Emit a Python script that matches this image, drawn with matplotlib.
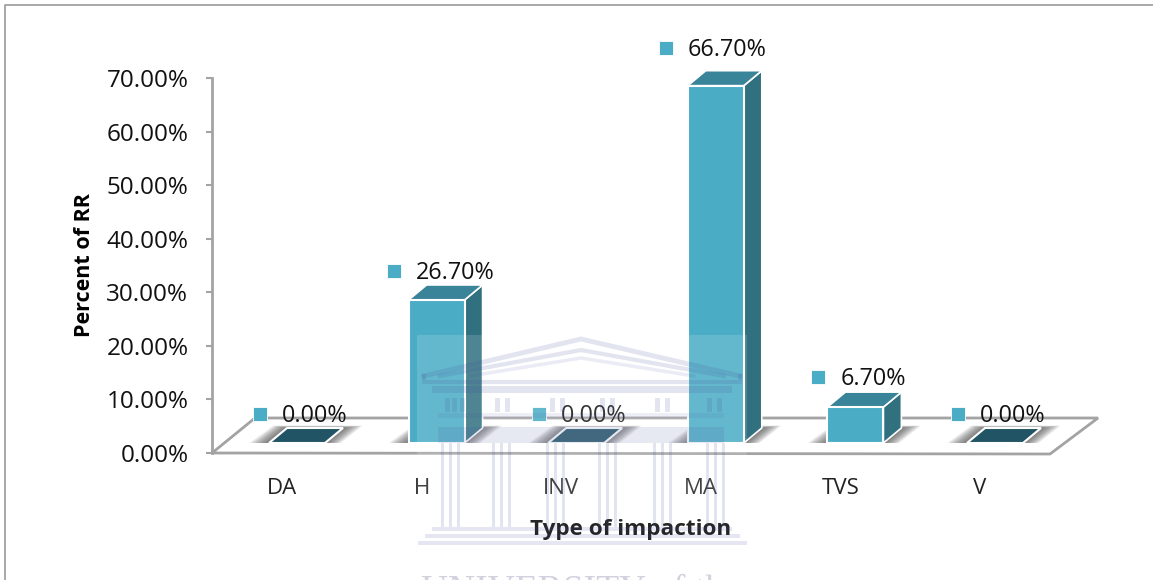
import matplotlib
matplotlib.use('Agg')
import matplotlib.pyplot as plt
from matplotlib.patches import Polygon, Rectangle
from matplotlib.transforms import offset_copy
import numpy as np

# data
categories = ['DA', 'H', 'INV', 'MA', 'TVS', 'V']
values = [0.0, 26.7, 0.0, 66.7, 6.7, 0.0]
y_ticks = [0, 10, 20, 30, 40, 50, 60, 70]

FRONT = '#4aacc5'
SIDE = '#31707f'
TOP = '#3a849a'
FLAT = '#215464'
GRAY = '#a3a3a3'

W, H = 1153, 580
plt.rcParams['font.family'] = ['Open Sans', 'DejaVu Sans']

fig = plt.figure(figsize=(W / 100, H / 100), dpi=100)

# axes placed so that 0% is at y=453 and 70% at y=78, categories 139.6 px apart
ax = fig.add_axes([212 / W, 1 - 453 / H, 888 / W, 375 / H])
px_x = 139.6
ax.set_xlim((212 - 297) / px_x, (1100 - 297) / px_x)
ax.set_ylim(0, 70)
px_y = 375 / 70

for s in ['top', 'right', 'bottom']:
    ax.spines[s].set_visible(False)
ax.spines['left'].set_color(GRAY)
ax.spines['left'].set_linewidth(2)

ax.set_yticks(y_ticks)
ax.set_yticklabels([f'{t:.2f}%' for t in y_ticks], fontsize=17.5, color='#111111')
ax.tick_params(axis='y', length=4, width=1.5, color=GRAY, pad=13)

xpos = np.arange(len(categories))
ax.set_xticks(xpos - 15 / px_x)
ax.set_xticklabels(categories, fontsize=16, color='#222222')
ax.tick_params(axis='x', length=0, pad=18)

ax.set_ylabel('Percent of RR', fontsize=15.5, fontweight='bold', labelpad=0)
ax.yaxis.set_label_coords((95 - 212) / 888, (453 - 265) / 375)
ax.set_xlabel('Type of impaction', fontsize=16.2, fontweight='bold')
ax.xaxis.set_label_coords((631 - 212) / 888, -(529 - 453) / 375, )
ax.xaxis.label.set_va('center')


def dx(p):
    return p / px_x


def dy(p):
    return p / px_y


# floor of the 3D chart
floor = [(dx(212 - 297), 0), (dx(255 - 297), dy(35)), (dx(1098 - 297), dy(35)),
         (dx(1050 - 297), dy(-1))]
ax.add_patch(Polygon(floor, closed=True, fc='white', ec=GRAY, lw=2, zorder=1, clip_on=False))

half = 28
base = dy(10)
depth_x, depth_y = 18, 15

for i, v in enumerate(values):
    x0 = xpos[i] - dx(half)
    x1 = xpos[i] + dx(half)
    top = base + v
    # soft shadow on the floor, stacked layers getting tighter and darker
    for g in range(20, 0, -1):
        shadow = [(x0 - dx(g), base), (x1 + dx(g * 0.8), base),
                  (x1 + dx(depth_x + g), base + dy(depth_y + g * 0.12)),
                  (x0 + dx(depth_x - g * 0.7), base + dy(depth_y + g * 0.12))]
        ax.add_patch(Polygon(shadow, closed=True, fc='#444444', ec='none',
                             alpha=0.05, zorder=2, clip_on=False))
    top_face = [(x0, top), (x1, top), (x1 + dx(depth_x), top + dy(depth_y)),
                (x0 + dx(depth_x), top + dy(depth_y))]
    if v == 0:
        ax.add_patch(Polygon(top_face, closed=True, fc=FLAT, ec='white', lw=1.5, zorder=3,
                             clip_on=False))
    else:
        side = [(x1, base), (x1 + dx(depth_x), base + dy(depth_y)),
                (x1 + dx(depth_x), top + dy(depth_y)), (x1, top)]
        ax.add_patch(Polygon(side, closed=True, fc=SIDE, ec='white', lw=1.2, zorder=3,
                             clip_on=False))
        ax.add_patch(Polygon(top_face, closed=True, fc=TOP, ec='white', lw=1.2, zorder=3,
                             clip_on=False))
        ax.add_patch(Rectangle((x0, base), x1 - x0, v, fc=FRONT, ec='white', lw=1.5, zorder=4,
                               clip_on=False))

# value labels with their little legend keys
key_shift = [-37, -42.6, -37, -50, -37, -37]
label_lift = [29, 29, 29, 38, 30, 29]
for i, v in enumerate(values):
    tr = offset_copy(ax.transData, fig=fig, x=key_shift[i], y=label_lift[i], units='dots')
    ax.plot([xpos[i]], [base + v], marker='s', ms=9.5, color=FRONT, mec='white', mew=0.6,
            transform=tr, zorder=6, clip_on=False)
    ax.annotate(f'{v:.2f}%', (xpos[i], base + v), xycoords='data',
                xytext=(key_shift[i] + 22, label_lift[i] - 2), textcoords='offset pixels',
                ha='left', va='center', fontsize=16.8, color='#111111', zorder=6,
                annotation_clip=False)

# watermark crest, drawn over everything in pixel coordinates
wm = fig.add_axes([0, 0, 1, 1], zorder=10)
wm.set_xlim(0, W)
wm.set_ylim(H, 0)
wm.axis('off')
wm.patch.set_alpha(0)
wm.add_patch(Rectangle((417, 335), 330, 213, fc='white', ec='none', alpha=0.15))
INK = '#3f4a9c'
A = 0.15
# pediment
wm.plot([424, 581, 740], [376, 339, 376], color=INK, alpha=A, lw=3.5, solid_joinstyle='miter')
wm.plot([440, 581, 724], [376, 350, 376], color=INK, alpha=A, lw=3, solid_joinstyle='miter')
wm.plot([470, 581, 694], [376, 358, 376], color=INK, alpha=A * 0.7, lw=2.5, solid_joinstyle='miter')
wm.plot([424, 424, 740, 740], [376, 382, 382, 376], color=INK, alpha=A, lw=3)
# entablature with its blocks
wm.add_patch(Rectangle((432, 386), 300, 7, fc=INK, ec='none', alpha=A))
wm.add_patch(Rectangle((438, 413), 286, 5, fc=INK, ec='none', alpha=A * 0.6))
for bx in [445, 452, 460, 495, 505, 550, 560, 600, 610, 655, 665, 707, 717]:
    wm.add_patch(Rectangle((bx, 398), 5, 14, fc=INK, ec='none', alpha=A))
# capitals and the band behind them
wm.add_patch(Rectangle((438, 427), 286, 16, fc=INK, ec='none', alpha=A * 0.8))
# columns, each a pair of stripes
col_x = [450, 501, 555, 607, 662, 715]
for cx in col_x:
    for c in [-8, 0, 8]:
        wm.add_patch(Rectangle((cx + c - 1.5, 443), 3, 84, fc=INK, ec='none', alpha=A))
# steps
for (x0, x1, y0) in [(432, 732, 527), (425, 740, 534), (418, 747, 541)]:
    wm.add_patch(Rectangle((x0, y0), x1 - x0, 4, fc=INK, ec='none', alpha=A * 0.9))
wm.text(581, 574, 'UNIVERSITY of the', family='Liberation Serif', fontsize=27, color='#d2d2de',
        ha='center', va='top', clip_on=False)

# page frame of the scanned figure
frame = fig.add_axes([0, 0, 1, 1], zorder=11)
frame.set_xlim(0, W)
frame.set_ylim(H, 0)
frame.axis('off')
frame.patch.set_alpha(0)
frame.plot([5, 5, 1153], [580, 5, 5], color='#9a9a9a', lw=1.2)

fig.savefig('out.png', dpi=100)
